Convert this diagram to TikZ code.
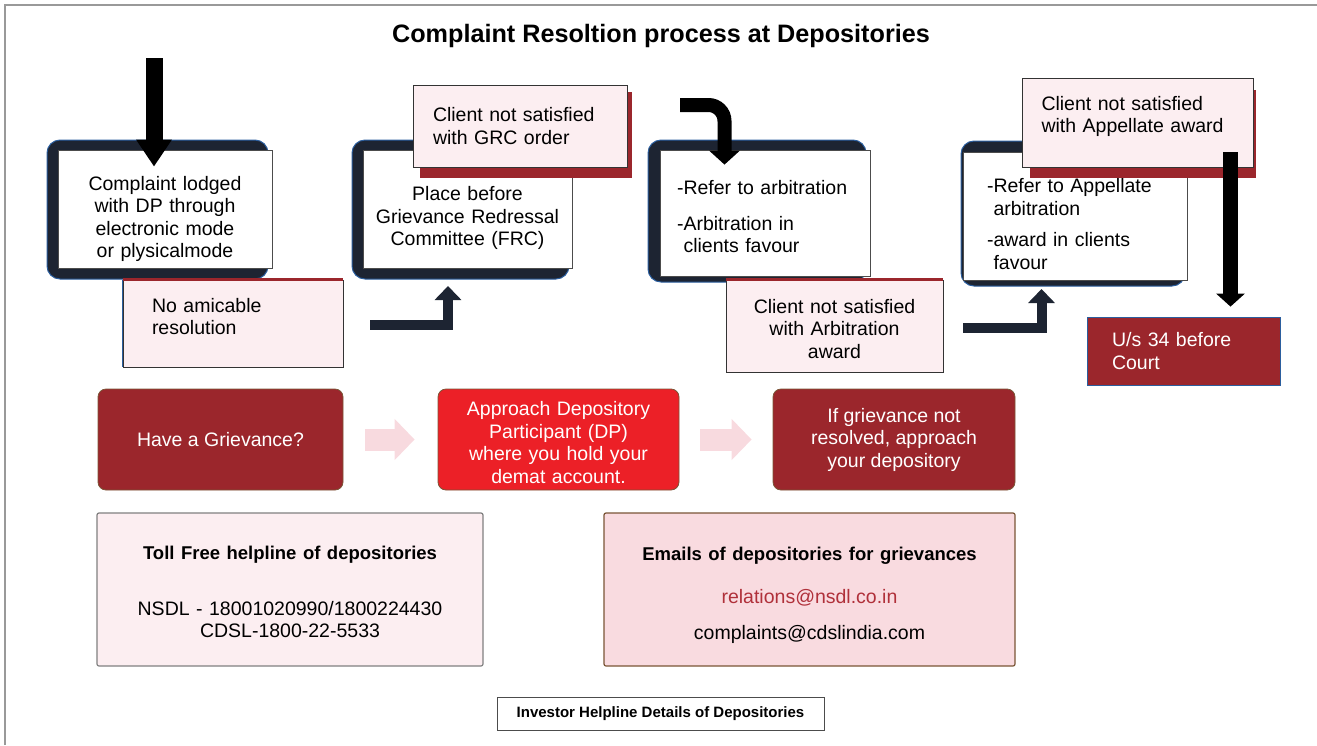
\documentclass[tikz,border=0pt]{standalone}
\usepackage{fontspec}
\setmainfont{Liberation Sans}
\usepackage{tikz}
\usetikzlibrary{arrows.meta}
\usetikzlibrary{positioning}
\definecolor{gdark}{HTML}{9B262C}
\definecolor{gred}{HTML}{EC2027}
\definecolor{gpink}{HTML}{FCEEF1}
\definecolor{gmail}{HTML}{F9DBE0}
\definecolor{gnavy}{HTML}{1D2432}
\definecolor{gedge}{HTML}{2B5E9E}
\definecolor{garrow}{HTML}{F8DADF}
\definecolor{glink}{HTML}{B0303A}
\definecolor{gborder}{HTML}{7A5536}

\begin{document}
\begin{tikzpicture}[x=1pt, y=-1pt,
  txt/.style={font=\fontsize{19.5}{22.5}\selectfont},
  frame/.style={fill=gnavy, draw=gedge, line width=1, rounded corners=13},
  plain/.style={txt, draw=black!70, fill=white, line width=.8, inner sep=0},
  pinkbox/.style={txt, draw=black!80, fill=gpink, line width=.8, inner sep=0},
  stepbox/.style={txt, text=white, rounded corners=8, draw=gborder, line width=.8, inner sep=0, minimum height=101, align=center},
  lift/.style={execute at end node={\endgraf\vspace*{#1}}},
  redtop/.style={gdark, line width=3},
  turn/.style={gnavy, line width=10, -{Triangle[width=26pt,length=14pt]}},
  hint/.style={garrow, line width=22, -{Triangle[width=40pt,length=20pt]}, shorten <=22pt, shorten >=23pt}]
\useasboundingbox (0,0) rectangle (1317,745);
\draw[gray!80, line width=2] (5,745) -- (5,5) -- (1317,5);
\node[font=\bfseries\fontsize{25.2}{29}\selectfont] (title) at (661,36) {Complaint Resoltion process at Depositories};

% lodging the complaint
\draw[frame] (47,140) rectangle (268,279);
\node[plain, minimum width=214, minimum height=118, text width=200, align=center, lift=-20pt] (lodged) at (165,209) {Complaint lodged\\with DP through\\electronic mode\\or plysicalmode};
\coordinate (in1) at (154,58);
\draw[black, line width=17, -{Triangle[width=34pt,length=27pt]}] (in1) -- ([yshift=-17pt]in1 |- lodged.north);
\node[pinkbox, minimum width=220, minimum height=87, text width=162, align=left, lift=14pt] (noamic) at (233,323.5) {No amicable\\resolution};
\draw[redtop] (noamic.north west) -- (noamic.north east);
\draw[gedge, line width=1.5] (noamic.north west) -- (noamic.south west);
\coordinate (up1) at (370,325);
\coordinate (up1e) at (448,286);
\draw[turn] (up1) -| (up1e);

% grievance redressal committee
\draw[frame] (352,140) rectangle (569,279);
\node[plain, minimum width=209, minimum height=118, text width=200, align=center, lift=-18pt] (frc) at (467.5,209) {Place before\\Grievance Redressal\\Committee (FRC)};
\fill[gdark] (420,92) rectangle (632,178);
\node[pinkbox, minimum width=214, minimum height=82, text width=174, align=left] (grc) at (520,126) {Client not satisfied\\with GRC order};

% arbitration
\draw[frame] (648,140) rectangle (866,282);
\node[plain, minimum width=210, minimum height=126, text width=176, align=left, lift=-8pt] (arb) at (765,213) {-Refer to arbitration\\[13pt]-Arbitration in\\\hphantom{-}clients favour};
\coordinate (hook) at (680,105);
\draw[black, line width=14, rounded corners=16, -{Triangle[width=30pt,length=14pt]}] (hook) -| ([yshift=-15pt]arb.north -| 724.5,0);
\node[pinkbox, minimum width=217, minimum height=92, text width=200, align=center, lift=-6pt] (arbaw) at (834.5,326) {Client not satisfied\\with Arbitration\\award};
\draw[redtop] (arbaw.north west) -- (arbaw.north east);
\coordinate (up2) at (963,327.5);
\coordinate (up2e) at (1041.5,289);
\draw[turn] (up2) -| (up2e);

% appellate arbitration
\draw[frame] (961,141) rectangle (1185,286);
\node[plain, minimum width=224, minimum height=128, text width=176, align=left, lift=-16pt] (appeal) at (1075,216) {-Refer to Appellate\\\hphantom{-}arbitration\\[9pt]-award in clients\\\hphantom{-}favour};
\fill[gdark] (1030,90) rectangle (1256,178);
\node[pinkbox, minimum width=231, minimum height=89, text width=192, align=left, lift=12pt] (appaw) at (1137.5,122.5) {Client not satisfied\\with Appellate award};
\node[txt, fill=gdark, draw=gedge, line width=.8, text=white, inner sep=0, minimum width=193, minimum height=68, text width=143, align=left] (court) at (1183.5,351) {U/s 34 before\\Court};
\coordinate (down2) at (1230.5,152);
\draw[black, line width=15, -{Triangle[width=28pt,length=13pt]}] (down2) -- ([yshift=10pt]down2 |- court.north);

% steps for the investor
\node[stepbox, fill=gdark, minimum width=245] (griev) at (220.5,439.5) {Have a Grievance?};
\node[stepbox, fill=gred, minimum width=241, text width=230, lift=-6pt] (dp) at (558.5,439.5) {Approach Depository\\Participant (DP)\\where you hold your\\demat account.};
\node[stepbox, fill=gdark, minimum width=242] (depo) at (894,439.5) {If grievance not\\resolved, approach\\your depository};
\draw[hint] (griev) -- (dp);
\draw[hint, shorten <=21pt, shorten >=21pt] (dp) -- (depo);

% helpline details
\node[txt, draw=gray, line width=1.2, fill=gpink, rounded corners=2, minimum width=386, minimum height=153, text width=370, align=center, lift=-5pt] (toll) at (290,589.5) {{\bfseries\fontsize{18.5}{22}\selectfont Toll Free helpline of depositories}\\[33pt]NSDL - 18001020990/1800224430\\CDSL-1800-22-5533};
\node[txt, draw=gborder, line width=1.2, fill=gmail, rounded corners=2, minimum width=411, minimum height=153, text width=390, align=center, lift=-11pt] (mail) at (809.5,589.5) {{\bfseries\fontsize{18.5}{22}\selectfont Emails of depositories for grievances}\\[21pt]{\color{glink}relations@nsdl.co.in}\\[13pt]complaints@cdslindia.com};
\node[draw=black!70, line width=1, font=\bfseries\fontsize{15}{18}\selectfont, minimum width=327, minimum height=33] (helpline) at (660.5,713.5) {Investor Helpline Details of Depositories};
\end{tikzpicture}
\end{document}
